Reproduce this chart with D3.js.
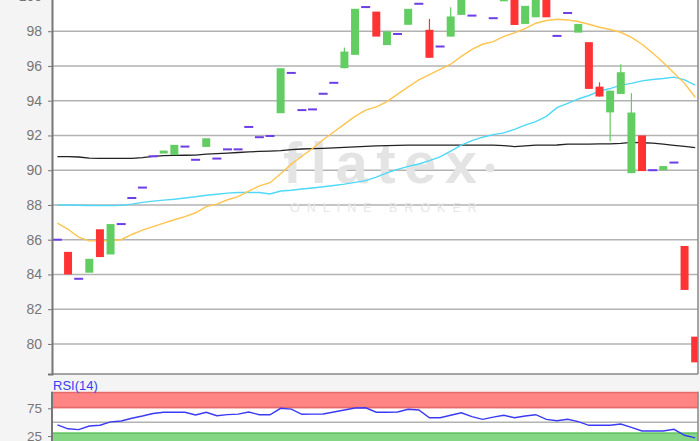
<!DOCTYPE html>
<html>
<head>
<meta charset="utf-8">
<script src="https://cdn.jsdelivr.net/npm/d3@7/dist/d3.min.js"></script>
<style>
  html, body { margin: 0; padding: 0; background: #f4f4f4; }
  svg { display: block; font-family: Arial, "Liberation Sans", sans-serif; }
</style>
</head>
<body>
<svg id="chart" width="700" height="441"></svg>
<script>
// ---------- DATA ----------
const open = [86.0, 85.3, 83.75, 84.1, 86.6, 85.15, 86.9, 88.4, 89.0, 90.8,
  90.96, 90.88, 91.36, 90.6, 91.34, 90.67, 91.2, 91.2, 92.49, 91.9,
  91.97, 93.28, 95.6, 93.46, 93.5, 94.4, 95.03, 95.87, 96.64, 99.39,
  99.13, 97.2, 97.84, 98.37, 99.58, 98.08, 97.12, 97.69, 98.94, 98.9,
  100.4, 98.75, 99.72, 100.5, 98.42, 98.8, 100.4, 97.73, 99.05, 97.92,
  97.37, 94.81, 93.33, 94.39, 89.83, 92.0, 90.0, 90.0, 90.44, 85.64,
  80.42];
const close = [86.0, 84.0, 83.75, 84.9, 85.0, 86.9, 86.9, 88.4, 89.0, 90.8,
  91.13, 91.46, 91.36, 90.6, 91.84, 90.67, 91.2, 91.2, 92.49, 91.9,
  91.97, 95.87, 95.6, 93.46, 93.5, 94.4, 95.03, 96.83, 99.29, 99.39,
  97.69, 97.99, 97.84, 99.29, 99.58, 96.47, 97.12, 98.85, 100.4, 98.9,
  100.4, 98.75, 100.5, 98.36, 99.46, 100.5, 98.8, 97.73, 99.05, 98.42,
  94.68, 94.24, 94.58, 95.64, 93.32, 89.95, 90.0, 90.24, 90.44, 83.11,
  78.94];
const high = [86.0, 85.3, 83.75, 84.9, 86.6, 86.9, 86.9, 88.4, 89.0, 90.8,
  91.13, 91.46, 91.36, 90.6, 91.84, 90.67, 91.2, 91.2, 92.49, 91.9,
  91.97, 95.87, 95.6, 93.46, 93.5, 94.4, 95.03, 97.06, 99.29, 99.39,
  99.13, 97.99, 97.84, 99.29, 99.58, 98.71, 97.12, 99.38, 100.4, 98.9,
  100.4, 98.75, 100.5, 100.5, 99.46, 100.5, 100.4, 97.73, 99.05, 98.42,
  97.37, 95.06, 94.58, 96.1, 94.43, 92.0, 90.0, 90.24, 90.44, 85.64,
  80.42];
const low = [86.0, 84.0, 83.75, 84.1, 85.0, 85.15, 86.9, 88.4, 89.0, 90.8,
  90.96, 90.88, 91.36, 90.6, 91.34, 90.67, 91.2, 91.2, 92.49, 91.9,
  91.97, 93.28, 95.6, 93.46, 93.5, 94.4, 95.03, 95.87, 96.64, 99.39,
  97.69, 97.2, 97.84, 98.37, 99.58, 96.47, 97.12, 97.69, 98.94, 98.9,
  100.4, 98.75, 99.72, 98.36, 98.42, 98.8, 98.8, 97.73, 99.05, 97.92,
  94.68, 94.24, 91.66, 94.39, 89.83, 89.95, 90.0, 90.0, 90.44, 83.11,
  78.94];

// moving averages
const maLong = [90.78, 90.78, 90.76, 90.69, 90.68, 90.68, 90.68, 90.68, 90.72, 90.8,
  90.84, 90.85, 90.86, 90.87, 90.92, 90.95, 90.98, 91.02, 91.05, 91.08,
  91.1, 91.13, 91.18, 91.22, 91.24, 91.26, 91.28, 91.31, 91.34, 91.37,
  91.4, 91.42, 91.43, 91.44, 91.44, 91.44, 91.44, 91.44, 91.44, 91.44,
  91.44, 91.44, 91.42, 91.36, 91.4, 91.44, 91.44, 91.45, 91.5, 91.5,
  91.5, 91.51, 91.52, 91.55, 91.6, 91.58, 91.56, 91.5, 91.43, 91.37,
  91.3];
const maMid = [88.0, 88.0, 87.98, 87.97, 87.97, 87.97, 87.98, 88.05, 88.15, 88.22,
  88.28, 88.33, 88.4, 88.47, 88.56, 88.62, 88.68, 88.72, 88.72, 88.72,
  88.63, 88.8, 88.85, 88.92, 88.98, 89.05, 89.12, 89.2, 89.3, 89.4,
  89.6, 89.85, 90.05, 90.22, 90.36, 90.55, 90.77, 91.1, 91.44, 91.7,
  91.9, 92.05, 92.15, 92.35, 92.6, 92.8, 93.1, 93.6, 93.85, 94.1,
  94.3, 94.55, 94.7, 94.9, 95.0, 95.14, 95.22, 95.28, 95.36, 95.2,
  94.9];
const maShort = [86.95, 86.6, 86.15, 85.93, 85.93, 85.95, 86.0, 86.3, 86.55, 86.75,
  86.95, 87.15, 87.33, 87.55, 87.9, 88.05, 88.3, 88.48, 88.8, 89.1,
  89.28, 89.8, 90.35, 90.8, 91.25, 91.75, 92.2, 92.65, 93.1, 93.46,
  93.65, 93.95, 94.38, 94.8, 95.2, 95.5, 95.8, 96.1, 96.55, 96.95,
  97.25, 97.4, 97.7, 97.9, 98.15, 98.46, 98.62, 98.69, 98.65, 98.56,
  98.4, 98.23, 98.1, 97.94, 97.65, 97.25, 96.75, 96.2, 95.6, 95.0,
  94.2];

// RSI(14)
const rsi = [45, 38, 36.5, 43, 44.5, 50.5, 52, 57, 61, 65.5,
  67.8, 67.8, 67.8, 63, 67.8, 61.6, 63.5, 64.5, 68.3, 63.4,
  63.4, 75, 73.5, 64.2, 64.5, 64.7, 68.3, 72, 75.5, 76,
  68, 68, 68.3, 73.2, 72, 58, 58, 62.5, 67, 60,
  55.1, 59, 62.4, 58, 61, 63.4, 55.1, 52.6, 55.1, 51,
  44.3, 44.3, 44.3, 46.7, 40.7, 34, 34, 34, 37.1, 26.3,
  21.5];

const priceTicks = [80, 82, 84, 86, 88, 90, 92, 94, 96, 98, 100];
const rsiTicks = [25, 75];
const rsiOverbought = [75, 106];
const rsiOversold = [0, 31.5];
const rsiMid = 50;

// ---------- LAYOUT ----------
const L = 52, R = 698;
const mainBottom = 374, mainTop = -25;
const rsiTop = 391.7, rsiBottom = 446;

const svg = d3.select("#chart");
svg.append("rect").attr("width", 700).attr("height", 441).attr("fill", "#f4f4f4");

const idx = d3.range(open.length);
const x = d3.scaleBand().domain(idx).range([52.1, 700.5]).paddingInner(0.25).paddingOuter(0.125);
const cx = i => x(i) + x.bandwidth() / 2;

const y = d3.scaleLinear().domain([78.27, 101]).range([mainBottom, -20.9]);

// main plot background
svg.append("rect").attr("x", L).attr("y", mainTop).attr("width", R - L).attr("height", mainBottom - mainTop).attr("fill", "#ffffff");

svg.append("defs").append("clipPath").attr("id", "clipMain")
  .append("rect").attr("x", L).attr("y", mainTop).attr("width", R - L).attr("height", mainBottom - mainTop);

// gridlines
svg.append("g").selectAll("line").data(priceTicks).join("line")
  .attr("x1", L).attr("x2", R).attr("y1", d => y(d)).attr("y2", d => y(d))
  .attr("stroke", "#b2b2b2").attr("stroke-width", 1.5);

// watermark
const wm = svg.append("g").attr("clip-path", "url(#clipMain)");
wm.append("text").attr("x", 283).attr("y", 183).text("flatex")
  .attr("font-size", 58).attr("font-weight", "bold").attr("letter-spacing", 8.5)
  .attr("fill", "#e4e4e4");
wm.append("circle").attr("cx", 490).attr("cy", 168).attr("r", 4.5).attr("fill", "#e4e4e4");
wm.append("text").attr("x", 290).attr("y", 212).text("ONLINE BROKER")
  .attr("font-size", 12.5).attr("letter-spacing", 7).attr("fill", "#e6e6e6");

const plot = svg.append("g").attr("clip-path", "url(#clipMain)");

// moving average lines
const mkLine = arr => d3.line().x((d, i) => cx(i)).y(d => y(d))(arr);
plot.append("path").attr("d", mkLine(maLong)).attr("fill", "none").attr("stroke", "#222").attr("stroke-width", 1.3);
plot.append("path").attr("d", mkLine(maMid)).attr("fill", "none").attr("stroke", "#4fd8f8").attr("stroke-width", 1.4);
plot.append("path").attr("d", mkLine(maShort)).attr("fill", "none").attr("stroke", "#ffc44d").attr("stroke-width", 1.4);

// candles
const green = "#62cd62", red = "#ff3333", doji = "#6d3ee6";
const cg = plot.append("g");
idx.forEach(i => {
  const o = open[i], c = close[i];
  if (o === c) {
    cg.append("rect").attr("x", x(i) - 0.5).attr("y", y(o) - 1).attr("width", x.bandwidth() + 1).attr("height", 2).attr("fill", doji);
    return;
  }
  const col = c > o ? green : red;
  const top = y(Math.max(o, c)), bot = y(Math.min(o, c));
  if (high[i] > Math.max(o, c) || low[i] < Math.min(o, c)) {
    cg.append("line").attr("x1", cx(i)).attr("x2", cx(i)).attr("y1", y(high[i])).attr("y2", y(low[i]))
      .attr("stroke", col).attr("stroke-width", 1.2);
  }
  cg.append("rect").attr("x", x(i)).attr("y", top).attr("width", x.bandwidth()).attr("height", Math.max(1, bot - top)).attr("fill", col);
});

// frame / axis
svg.append("line").attr("x1", L).attr("x2", R).attr("y1", mainBottom).attr("y2", mainBottom).attr("stroke", "#888").attr("stroke-width", 1.5);
svg.append("line").attr("x1", R).attr("x2", R).attr("y1", mainTop).attr("y2", mainBottom).attr("stroke", "#888").attr("stroke-width", 1.5);

const yAxis = svg.append("g").attr("transform", `translate(${L},0)`)
  .call(d3.axisLeft(y).tickValues(priceTicks).tickSize(4).tickPadding(6).tickFormat(d3.format("d")));
yAxis.select(".domain").attr("stroke", "#777").attr("stroke-width", 2);
yAxis.selectAll(".tick line").attr("stroke", "#777");
yAxis.selectAll(".tick text").attr("fill", "#777").attr("font-size", 14).attr("font-family", "Arial, 'Liberation Sans', sans-serif");

// ---------- RSI PANEL ----------
const yR = d3.scaleLinear().domain([25, 75]).range([436, 408.3]);
svg.append("rect").attr("x", L).attr("y", rsiTop).attr("width", R - L).attr("height", rsiBottom - rsiTop).attr("fill", "#fff");
svg.append("defs").append("clipPath").attr("id", "clipRsi")
  .append("rect").attr("x", L).attr("y", rsiTop).attr("width", R - L).attr("height", rsiBottom - rsiTop);
const rp = svg.append("g").attr("clip-path", "url(#clipRsi)");

rp.append("rect").attr("x", L).attr("width", R - L)
  .attr("y", yR(rsiOverbought[1])).attr("height", yR(rsiOverbought[0]) - yR(rsiOverbought[1]))
  .attr("fill", "#ff8585");
rp.append("line").attr("x1", L).attr("x2", R).attr("y1", yR(rsiOverbought[0]) - 0.75).attr("y2", yR(rsiOverbought[0]) - 0.75)
  .attr("stroke", "#e56a6a").attr("stroke-width", 1.5);
rp.append("line").attr("x1", L).attr("x2", R).attr("y1", rsiTop + 0.75).attr("y2", rsiTop + 0.75)
  .attr("stroke", "#e56a6a").attr("stroke-width", 1.5);
rp.append("rect").attr("x", L).attr("width", R - L)
  .attr("y", yR(rsiOversold[1])).attr("height", yR(rsiOversold[0]) - yR(rsiOversold[1]))
  .attr("fill", "#84d684");
rp.append("line").attr("x1", L).attr("x2", R).attr("y1", yR(rsiOversold[1]) + 0.75).attr("y2", yR(rsiOversold[1]) + 0.75)
  .attr("stroke", "#66c266").attr("stroke-width", 1.5);
rp.append("line").attr("x1", L).attr("x2", R).attr("y1", yR(rsiMid)).attr("y2", yR(rsiMid))
  .attr("stroke", "#b2b2b2").attr("stroke-width", 1.5);

rp.append("path").attr("d", d3.line().x((d, i) => cx(i)).y(d => yR(d))(rsi))
  .attr("fill", "none").attr("stroke", "#3a3af5").attr("stroke-width", 1.4);

svg.append("line").attr("x1", R).attr("x2", R).attr("y1", rsiTop).attr("y2", 441).attr("stroke", "#888").attr("stroke-width", 1.5);
const rAxis = svg.append("g").attr("transform", `translate(${L},0)`)
  .call(d3.axisLeft(yR).tickValues(rsiTicks).tickSize(4).tickPadding(6).tickSizeOuter(0));
rAxis.select(".domain").attr("stroke", "#777").attr("stroke-width", 2).attr("d", `M0,${rsiTop}V441`);
rAxis.selectAll(".tick line").attr("stroke", "#777");
rAxis.selectAll(".tick text").attr("fill", "#777").attr("font-size", 13.5).attr("font-family", "Arial, 'Liberation Sans', sans-serif");

svg.append("text").attr("x", 53).attr("y", 389.5).text("RSI(14)")
  .attr("fill", "#3340f0").attr("font-size", 13);
</script>
</body>
</html>
